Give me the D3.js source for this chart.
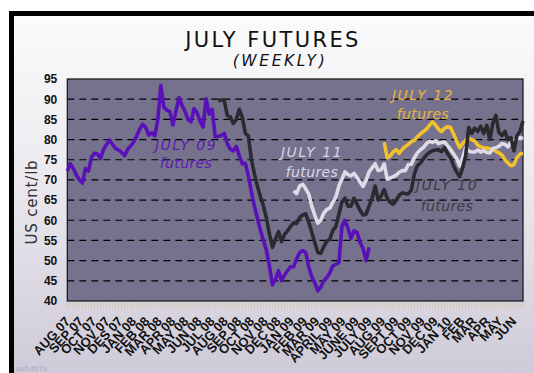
<!DOCTYPE html>
<html><head><meta charset="utf-8">
<script src="https://cdn.jsdelivr.net/npm/d3@7"></script>
<style>body{margin:0;background:#fff} svg{display:block}</style>
</head><body>
<svg id="c" width="534" height="373"></svg>
<script>
// ---------- DATA ----------
const title = "JULY FUTURES";
const subtitle = "(WEEKLY)";
const yTitle = "US cent/lb";
const footer = "axfut07x";
const xLabels = ["AUG 07","SEP 07","OCT 07","NOV 07","DES 07","JAN 08","FEB 08","MAR 08","APR 08","MAY 08","JUN 08","JUL 08","AUG 08","SEP 08","OCT 08","NOV 08","DEC 08","JAN 09","FEB 09","MAR 09","APRIL 09","MAY 09","JUNE 09","JULY 09","AUG 09","SEPT 09","OCT 09","NOV 09","DEC 09","JAN 10","FEB","MAR","APR","MAY","JUN"];
const yTicks = [40,45,50,55,60,65,70,75,80,85,90,95];
const gridTicks = [45,50,55,60,65,70,75,80,85,90];
const weekCount = 152;

// JULY 09 futures, from week 0 (3 Aug 2007)
const july09Start = 0;
const july09 = [72.2,74.0,72.8,71.2,70.0,69.2,72.8,72.2,75.6,76.6,
76.4,75.3,77.5,78.8,79.9,78.8,77.8,77.4,76.8,76.0,
77.6,78.4,79.4,80.9,82.6,83.8,83.0,81.1,81.7,80.9,
85.0,93.4,88.0,87.3,86.9,83.6,87.0,90.4,88.5,87.0,
85.0,84.4,87.7,86.7,84.5,83.1,90.1,86.3,87.5,80.7,
80.8,81.0,81.5,79.0,77.6,77.2,78.3,76.0,74.0,74.1,
71.0,67.0,63.5,60.5,57.5,55.0,52.5,48.5,44.0,45.4,
47.5,45.0,46.5,47.5,48.5,48.5,50.5,52.0,52.5,52.0,
48.5,46.0,44.5,42.5,43.5,45.0,45.8,47.0,48.7,49.1,
49.5,58.5,60.0,58.0,55.5,57.4,57.0,54.5,53.0,50.0,
53.3];

// JULY 10 futures, from week 50
const july10Start = 50;
const july10 = [89.6,89.8,89.8,86.0,85.6,84.0,85.0,87.5,85.5,81.5,
80.9,75.0,71.5,68.5,65.8,63.5,60.5,56.5,53.3,55.3,
57.2,54.7,56.5,57.4,58.5,59.4,59.2,60.7,61.3,61.6,
59.5,57.0,54.5,52.0,51.8,53.5,54.8,55.3,57.5,58.5,
61.5,64.5,65.5,63.5,63.5,65.5,64.0,62.5,61.3,61.5,
63.5,65.5,68.5,65.0,66.0,67.6,65.5,64.4,64.0,65.0,
66.2,66.8,66.6,66.5,67.5,71.5,73.5,74.2,75.2,76.2,
76.8,77.2,77.4,77.5,77.0,78.0,76.5,75.5,73.5,72.0,
70.8,73.0,76.0,83.0,81.5,82.8,82.0,83.3,81.5,83.5,
80.0,84.0,86.0,81.8,81.0,82.0,80.0,80.5,77.2,81.0,
82.0,84.6];

// JULY 11 futures, from week 75
const july11Start = 75;
const july11 = [67.3,66.6,68.5,68.9,67.8,
66.5,63.5,61.3,59.3,60.0,61.8,62.7,63.0,64.5,65.8,
68.5,70.2,72.0,71.3,71.0,71.6,70.6,69.5,68.4,69.9,
72.0,73.0,74.0,72.3,72.5,74.0,70.2,70.5,70.8,71.2,
71.9,72.3,72.3,73.8,73.9,75.5,76.7,77.5,78.0,79.0,
79.6,79.3,79.7,79.0,79.3,79.4,78.5,77.5,76.4,75.3,
73.5,75.5,78.0,77.2,76.9,76.9,77.4,76.9,77.3,76.8,
76.7,77.8,78.0,78.3,79.0,78.8,78.2,79.3,79.7,80.1,
80.5,80.2];

// JULY 12 futures, from week 105
const july12Start = 105;
const july12 = [79.3,75.5,75.9,77.0,77.5,
76.6,77.6,78.3,78.8,79.5,79.8,80.7,81.4,82.0,82.6,
83.5,84.4,83.6,82.6,82.0,82.8,83.2,83.0,81.4,79.6,
78.0,79.0,79.9,80.3,80.0,79.6,78.6,78.2,77.9,77.9,
77.7,77.5,77.1,76.7,76.2,75.0,74.2,73.5,73.8,75.5,
76.4,76.6];

const seriesNames = ["JULY 09","JULY 10","JULY 11","JULY 12"];

// ---------- DRAW ----------
const svg = d3.select("#c");
const defs = svg.append("defs");
const grad = defs.append("linearGradient").attr("id","bg").attr("x1",0).attr("y1",0).attr("x2",0).attr("y2",1);
grad.append("stop").attr("offset","0%").attr("stop-color","#fbfbfb");
grad.append("stop").attr("offset","45%").attr("stop-color","#ebe9ee");
grad.append("stop").attr("offset","100%").attr("stop-color","#cdc9d8");

svg.append("rect").attr("x",9).attr("y",11).attr("width",530).attr("height",370).attr("fill","#000");
svg.append("rect").attr("x",14).attr("y",16).attr("width",525).attr("height",365).attr("fill","url(#bg)");

const firstWeek = new Date(2007,7,3);
const weekDate = i => d3.timeDay.offset(firstWeek, 7*i);
const L = 67.3, R = 523, T = 79, B = 301;
const x = d3.scaleTime().domain([firstWeek, weekDate(weekCount-1)]).range([L, R]);
const y = d3.scaleLinear().domain([40,95]).range([B, T]);

// plot background
svg.append("rect").attr("x",L).attr("y",T).attr("width",R-L).attr("height",B-T).attr("fill","#76728d");

// grid
svg.append("g").selectAll("line").data(gridTicks).join("line")
  .attr("x1",L).attr("x2",R).attr("y1",d=>y(d)).attr("y2",d=>y(d))
  .attr("stroke","#000").attr("stroke-width",1.2).attr("stroke-dasharray","7,5");

// weekly tick band
svg.append("g").selectAll("line").data(d3.range(weekCount)).join("line")
  .attr("x1",d=>x(weekDate(d))).attr("x2",d=>x(weekDate(d)))
  .attr("y1",B+1.5).attr("y2",B+7.5)
  .attr("stroke","#cdc9ad").attr("stroke-width",1);

// plot frame
svg.append("rect").attr("x",L).attr("y",T).attr("width",R-L).attr("height",B-T)
  .attr("fill","none").attr("stroke","#111").attr("stroke-width",1.2);

// lines
const line = d3.line().x(d=>x(d.date)).y(d=>y(d.v)).curve(d3.curveLinear);
const mk = (arr, start) => arr.map((v,i)=>({date: weekDate(start+i), v}));
const series = [
  {data: mk(july09, july09Start), color:"#5a10b8"},
  {data: mk(july12, july12Start), color:"#f2c12e"},
  {data: mk(july11, july11Start), color:"#dedae6"},
  {data: mk(july10, july10Start), color:"#2a2a30"}
];
svg.append("g").selectAll("path").data(series).join("path")
  .attr("d",d=>line(d.data)).attr("fill","none").attr("stroke",d=>d.color)
  .attr("stroke-width",3.6).attr("stroke-linejoin","round").attr("stroke-linecap","butt");

// y axis
const yAxis = svg.append("g").attr("transform",`translate(${L},0)`)
  .call(d3.axisLeft(y).tickValues(yTicks).tickSize(0).tickPadding(10).tickFormat(d3.format("d")));
yAxis.select(".domain").remove();
yAxis.selectAll("text").attr("font-family","'Liberation Sans', Arial, sans-serif")
  .attr("font-weight","bold").attr("font-size",12).attr("fill","#111");

// x axis
const months = d3.timeMonth.range(new Date(2007,7,1), new Date(2010,6,1));
const xAxis = svg.append("g").attr("transform",`translate(0,${B})`)
  .call(d3.axisBottom(x).tickValues(months).tickSize(0).tickFormat((d,i)=>xLabels[i]));
xAxis.select(".domain").remove();
xAxis.selectAll("text").attr("font-family","'Liberation Sans', Arial, sans-serif")
  .attr("font-weight","bold").attr("font-size",13).attr("fill","#111")
  .attr("x",0).attr("y",0).attr("dy",0).attr("text-anchor","end")
  .attr("transform","translate(4,21) rotate(-47)");

// y title
svg.append("text").attr("transform","translate(37,202) rotate(-90)")
  .attr("text-anchor","middle").attr("font-family","'DejaVu Sans', sans-serif")
  .attr("font-size",15).attr("letter-spacing",0.8).attr("fill","#333").text(yTitle);

// titles
svg.append("text").attr("x",273).attr("y",47).attr("text-anchor","middle")
  .attr("font-family","'DejaVu Sans', sans-serif").attr("font-size",21).attr("letter-spacing",2.4)
  .attr("fill","#111").text(title);
svg.append("text").attr("x",280).attr("y",65.5).attr("text-anchor","middle")
  .attr("font-family","'DejaVu Sans', sans-serif").attr("font-style","italic").attr("font-size",15.5)
  .attr("letter-spacing",2.6).attr("fill","#111").text(subtitle);

// annotations
const notes = [
  {name: seriesNames[0], x:186, y1:150, y2:168, color:"#5b1cb0"},
  {name: seriesNames[2], x:312, y1:157, y2:176.5, color:"#d8d4e2"},
  {name: seriesNames[3], x:423, y1:100, y2:119, color:"#e6b63a"},
  {name: seriesNames[1], x:447, y1:190, y2:210.5, color:"#3a3a44"}
];
notes.forEach(n=>{
  svg.append("text").attr("x",n.x).attr("y",n.y1).attr("text-anchor","middle")
    .attr("font-family","'DejaVu Sans', sans-serif").attr("font-style","italic").attr("font-size",14)
    .attr("letter-spacing",1.5).attr("fill",n.color).text(n.name);
  svg.append("text").attr("x",n.x).attr("y",n.y2).attr("text-anchor","middle")
    .attr("font-family","'DejaVu Sans', sans-serif").attr("font-style","italic").attr("font-size",14)
    .attr("letter-spacing",0.4).attr("fill",n.color).text("futures");
});

// footer
svg.append("text").attr("x",16).attr("y",371).attr("font-family","'DejaVu Sans', sans-serif")
  .attr("font-size",7).attr("fill","#aaa6c4").text(footer);
</script>
</body></html>
